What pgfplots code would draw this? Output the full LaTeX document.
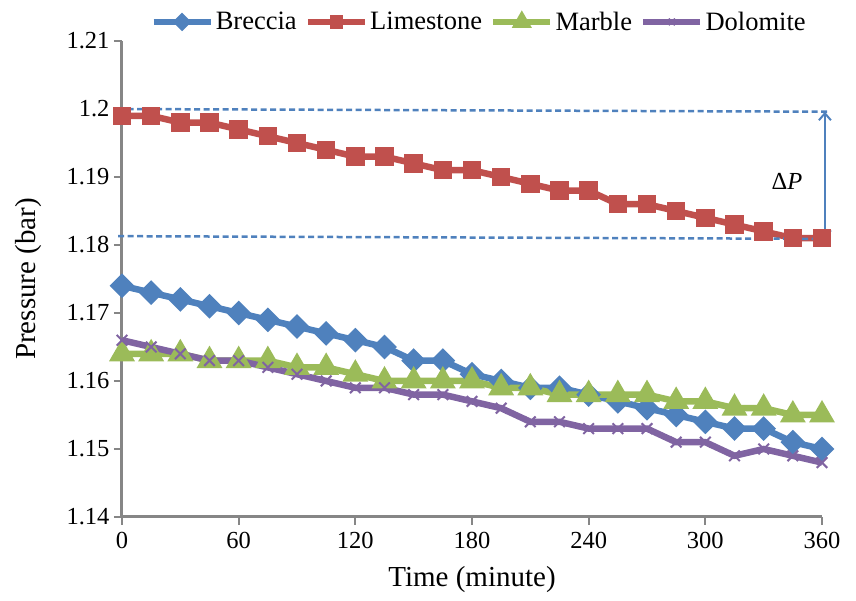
\documentclass[border=0pt]{standalone}
\usepackage{fontspec}
\setmainfont{Liberation Serif}
\usepackage{pgfplots}
\pgfplotsset{compat=1.18}
\usetikzlibrary{arrows.meta}

\definecolor{cBreccia}{HTML}{4F81BD}
\definecolor{cLime}{HTML}{C0504D}
\definecolor{cMarble}{HTML}{9BBB59}
\definecolor{cDolo}{HTML}{8064A2}
\definecolor{axgray}{HTML}{868686}

\begin{document}
\begin{tikzpicture}
\begin{axis}[
    name=ax,
    scale only axis,
    width=700pt, height=476pt,
    xmin=0, xmax=360, ymin=1.14, ymax=1.21,
    xtick={0,60,...,360},
    ytick={1.14,1.15,1.16,1.17,1.18,1.19,1.2,1.21},
    yticklabels={1.14,1.15,1.16,1.17,1.18,1.19,1.2,1.21},
    axis x line*=bottom, axis y line*=left,
    axis line style={axgray, line width=3pt, -},
    tick style={axgray, line width=2pt},
    tick align=outside,
    major tick length=8pt,
    clip=false,
    /pgf/number format/assume math mode=true,
    tick label style={font=\fontsize{24.5}{28}\selectfont},
    yticklabel style={xshift=-1pt},
    xticklabel style={yshift=-4pt},
    label style={font=\fontsize{29}{33}\selectfont},
    xlabel={Time (minute)},
    ylabel={Pressure (bar)},
    xlabel style={at={(axis description cs:0.5,-0.132)}, anchor=center},
    ylabel style={at={(axis description cs:-0.134,0.5)}, anchor=center},
    legend columns=4,
    legend style={at={(0.51,1.04)}, anchor=center, draw=none, fill=none,
        font=\fontsize{26.5}{30}\selectfont,
        /tikz/every even column/.append style={column sep=6pt}},
    legend image code/.code={
        \draw[mark repeat=2, mark phase=2, #1, every mark/.append style={scale=0.6}]
        plot coordinates {(0pt,0pt) (28.5pt,0pt) (57pt,0pt)};},
]
% Breccia
\addplot[cBreccia, line width=6.5pt, mark=square*, mark size=5.5pt, mark options={rotate=45, solid}]
coordinates {
(0,1.174) (15,1.173) (30,1.172) (45,1.171) (60,1.170) (75,1.169) (90,1.168)
(105,1.167) (120,1.166) (135,1.165) (150,1.163) (165,1.163) (180,1.161)
(195,1.160) (210,1.159) (225,1.159) (240,1.158) (255,1.157) (270,1.156)
(285,1.155) (300,1.154) (315,1.153) (330,1.153) (345,1.151) (360,1.150)};
\addlegendentry{Breccia}
% Limestone
\addplot[cLime, line width=6.5pt, mark=square*, mark size=6pt]
coordinates {
(0,1.199) (15,1.199) (30,1.198) (45,1.198) (60,1.197) (75,1.196) (90,1.195)
(105,1.194) (120,1.193) (135,1.193) (150,1.192) (165,1.191) (180,1.191)
(195,1.190) (210,1.189) (225,1.188) (240,1.188) (255,1.186) (270,1.186)
(285,1.185) (300,1.184) (315,1.183) (330,1.182) (345,1.181) (360,1.181)};
\addlegendentry{Limestone}
% Marble
\addplot[cMarble, line width=6.5pt, mark=triangle*, mark size=8.5pt]
coordinates {
(0,1.164) (15,1.164) (30,1.164) (45,1.163) (60,1.163) (75,1.163) (90,1.162)
(105,1.162) (120,1.161) (135,1.160) (150,1.160) (165,1.160) (180,1.160)
(195,1.159) (210,1.159) (225,1.158) (240,1.158) (255,1.158) (270,1.158)
(285,1.157) (300,1.157) (315,1.156) (330,1.156) (345,1.155) (360,1.155)};
\addlegendentry{Marble}
% Dolomite
\addplot[cDolo, line width=6.5pt, mark=x, mark size=7.5pt, mark options={line width=2pt}]
coordinates {
(0,1.166) (15,1.165) (30,1.164) (45,1.163) (60,1.163) (75,1.162) (90,1.161)
(105,1.160) (120,1.159) (135,1.159) (150,1.158) (165,1.158) (180,1.157)
(195,1.156) (210,1.154) (225,1.154) (240,1.153) (255,1.153) (270,1.153)
(285,1.151) (300,1.151) (315,1.149) (330,1.150) (345,1.149) (360,1.148)};
\addlegendentry{Dolomite}
% Delta P annotation
\addplot[forget plot, cBreccia, line width=2.5pt, dash pattern=on 6pt off 3.5pt, mark=none]
coordinates {(-2,1.2000) (363,1.1996)};
\addplot[forget plot, cBreccia, line width=2.5pt, dash pattern=on 6pt off 3.5pt, mark=none]
coordinates {(-2,1.1813) (363,1.1809)};
\addplot[forget plot, cBreccia, line width=2pt, mark=none,
    {Straight Barb[length=7pt,width=12pt]}-{Straight Barb[length=7pt,width=12pt]}]
coordinates {(361.5,1.1809) (361.5,1.1996)};
\node[font=\fontsize{24.5}{28}\selectfont] at (axis cs:342,1.1893) {Δ\textit{P}};
\end{axis}
\path (ax.south west) ++(-122pt,-84pt) rectangle ++(856pt,601pt);
\end{tikzpicture}
\end{document}
